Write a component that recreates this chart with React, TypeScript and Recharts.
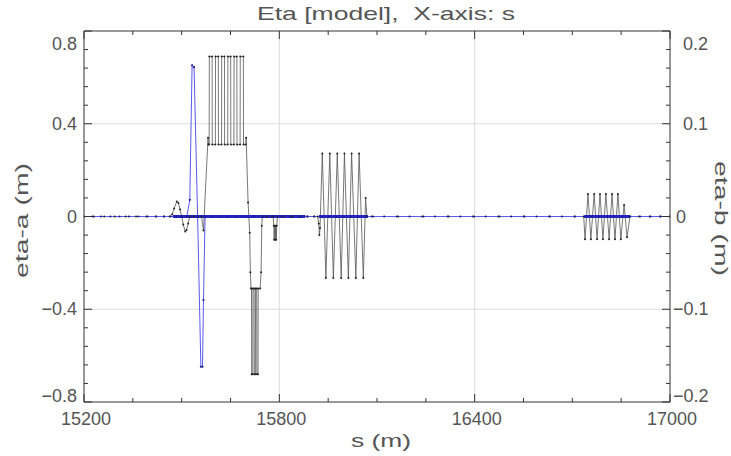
import React from 'react';
import { LineChart, Line, XAxis, YAxis, ReferenceLine } from 'recharts';

// ---------- axes ----------
const X_DOMAIN: [number, number] = [15200, 17000];
const YA_DOMAIN: [number, number] = [-0.8, 0.8];
const YB_DOMAIN: [number, number] = [-0.2, 0.2];

const X_TICKS = [15200, 15350, 15500, 15650, 15800, 15950, 16100, 16250, 16400, 16550, 16700, 16850, 17000];
const X_LABELED = [15200, 15800, 16400, 17000];
const X_GRID = [15800, 16400];

const YA_TICKS = [-0.8, -0.72, -0.64, -0.56, -0.48, -0.4, -0.32, -0.24, -0.16, -0.08, 0, 0.08, 0.16, 0.24, 0.32, 0.4, 0.48, 0.56, 0.64, 0.72, 0.8];
const YA_LABELED = [-0.8, -0.4, 0, 0.4, 0.8];
const YA_GRID = [-0.4, 0, 0.4];

const YB_TICKS = [-0.2, -0.18, -0.16, -0.14, -0.12, -0.1, -0.08, -0.06, -0.04, -0.02, 0, 0.02, 0.04, 0.06, 0.08, 0.1, 0.12, 0.14, 0.16, 0.18, 0.2];
const YB_LABELED = [-0.2, -0.1, 0, 0.1, 0.2];

// ---------- series: eta-a (left axis, black) ----------
const S_A = [
  15200, 15230, 15262, 15295, 15328, 15360, 15392, 15422, 15446, 15463,
  15471, 15477, 15485, 15490, 15495, 15500, 15505, 15511, 15515, 15520, 15525,
  15537, 15550, 15561, 15567, 15581, 15582,
  15584.5, 15585, 15593.5, 15594, 15603.5, 15604, 15612.5, 15613, 15622.5, 15623,
  15631.5, 15632, 15641.5, 15642, 15650.5, 15651, 15660.5, 15661, 15669.5, 15670,
  15679.5, 15680, 15689.5, 15690, 15697, 15698,
  15704, 15709, 15711, 15713,
  15714.5, 15715, 15718.5, 15719, 15722.5, 15723, 15726.5, 15727, 15730.5, 15731, 15734.5, 15735,
  15741, 15744, 15746, 15748,
  15762, 15776, 15781, 15783, 15784, 15786, 15787.5, 15789, 15790.5, 15792, 15794,
  15812, 15838, 15862, 15886, 15906, 15918,
  15921, 15923, 15925, 15932, 15943, 15955, 15966, 15978, 15990, 16000, 16012, 16022, 16035, 16045, 16058, 16065, 16069,
  16088, 16165, 16243, 16320, 16398, 16476, 16553, 16631, 16708, 16735,
  16739, 16748, 16757, 16767, 16776, 16785, 16794, 16803, 16813, 16822, 16831, 16840, 16849, 16859, 16868, 16877,
  16905, 16938, 16970, 17000,
];
const ETA_A = [
  0, 0, 0, 0, 0, 0, 0, 0, 0, 0,
  0.01, 0.035, 0.065, 0.058, 0.03, 0, -0.035, -0.065, -0.058, -0.03, 0,
  0, 0, 0, -0.06, 0.34, 0.31,
  0.31, 0.69, 0.69, 0.31, 0.31, 0.69, 0.69, 0.31, 0.31, 0.69,
  0.69, 0.31, 0.31, 0.69, 0.69, 0.31, 0.31, 0.69, 0.69, 0.31,
  0.31, 0.69, 0.69, 0.31, 0.31, 0.34,
  0.06, -0.07, -0.24, -0.31,
  -0.31, -0.68, -0.68, -0.31, -0.31, -0.68, -0.68, -0.31, -0.31, -0.68, -0.68, -0.31,
  -0.31, -0.24, -0.04, 0,
  0, 0, 0, -0.04, -0.1, -0.04, -0.1, -0.04, -0.1, -0.04, 0,
  0, 0, 0, 0, 0, 0,
  -0.03, -0.08, -0.05, 0.272, -0.265, 0.272, -0.265, 0.272, -0.265, 0.272, -0.265, 0.272, -0.265, 0.272, -0.265, 0.08, 0,
  0, 0, 0, 0, 0, 0, 0, 0, 0, 0,
  -0.098, 0.097, -0.098, 0.097, -0.098, 0.097, -0.098, 0.097, -0.098, 0.097, -0.098, 0.097, -0.098, 0.05, -0.09, 0,
  0, 0, 0, 0,
];

// ---------- series: eta-b (right axis, blue) ----------
const S_B = [
  15200, 15226, 15252, 15281, 15309, 15338, 15367, 15395, 15421, 15446, 15466, 15484, 15500, 15516,
  15525, 15532, 15538, 15549, 15559, 15564, 15567, 15572,
  15592, 15615, 15640, 15668, 15695, 15722, 15750, 15778, 15806, 15833, 15860, 15887, 15908,
  15930, 15952, 15975, 15998, 16020, 16043, 16066,
  16084, 16122, 16161, 16200, 16239, 16278, 16317, 16356, 16395, 16434, 16473, 16512, 16551, 16590, 16629, 16668, 16707,
  16738, 16760, 16783, 16806, 16829, 16852, 16876, 16908, 16940, 16971, 17000,
];
const ETA_B = [
  0, 0, 0, 0, 0, 0, 0, 0, 0, 0, 0, 0, 0, 0,
  0.018, 0.163, 0.161, 0, -0.162, -0.162, -0.09, 0,
  0, 0, 0, 0, 0, 0, 0, 0, 0, 0, 0, 0, 0,
  0, 0, 0, 0, 0, 0, 0,
  0, 0, 0, 0, 0, 0, 0, 0, 0, 0, 0, 0, 0, 0, 0, 0, 0,
  0, 0, 0, 0, 0, 0, 0, 0, 0, 0, 0,
];
// densely sampled stretches of eta-b (many overlapping points -> heavy line)
const S_B_DENSE = [15473, 15880, 15881, 15922, 16072, 16073, 16737, 16878];
const ETA_B_DENSE: (number | null)[] = [0, 0, null, 0, 0, null, 0, 0];

const dataA = S_A.map((s, i) => ({ s, etaA: ETA_A[i] }));
const dataB = S_B.map((s, i) => ({ s, etaB: ETA_B[i] }));
const dataBDense = S_B_DENSE.map((s, i) => ({ s, etaB: ETA_B_DENSE[i] }));

// ---------- styling ----------
const FONT = "'Liberation Sans', Arial, sans-serif";
const AXIS = '#333';
const TEXT = '#555';
const isIn = (arr: number[], v: number) => arr.some((a) => Math.abs(a - v) < 1e-9);
const fmt = (v: number) => {
  const r = Math.round(v * 1000) / 1000;
  return r < 0 ? '\u2212' + String(-r) : String(r);
};

function BottomTick(props: any) {
  const { x, y, payload } = props;
  const v = payload.value;
  const major = isIn(X_LABELED, v);
  return (
    <g>
      <line x1={x} x2={x} y1={y} y2={y - (major ? 8 : 4)} stroke={AXIS} strokeWidth={1} />
      {major ? (
        <text x={x + 2} y={y + 23} textAnchor="middle" fontFamily={FONT} fontSize={18} fill={TEXT}>
          {fmt(v)}
        </text>
      ) : null}
    </g>
  );
}

function TopTick(props: any) {
  const { x, y, payload } = props;
  const major = isIn(X_LABELED, payload.value);
  return <line x1={x} x2={x} y1={y} y2={y + (major ? 8 : 4)} stroke={AXIS} strokeWidth={1} />;
}

function LeftTick(props: any) {
  const { x, y, payload } = props;
  const v = payload.value;
  const major = isIn(YA_LABELED, v);
  const shift = Math.abs(v - 0.8) < 1e-9 ? 13 : Math.abs(v + 0.8) < 1e-9 ? -6 : 0;
  return (
    <g>
      <line x1={x} x2={x + (major ? 8 : 4)} y1={y} y2={y} stroke={AXIS} strokeWidth={1} />
      {major ? (
        <text x={x - 7} y={y + 6 + shift} textAnchor="end" fontFamily={FONT} fontSize={18} fill={TEXT}>
          {fmt(v)}
        </text>
      ) : null}
    </g>
  );
}

function RightTick(props: any) {
  const { x, y, payload } = props;
  const v = payload.value;
  const major = isIn(YB_LABELED, v);
  const shift = Math.abs(v - 0.2) < 1e-9 ? 13 : Math.abs(v + 0.2) < 1e-9 ? -6 : 0;
  const dx = v > 1e-9 ? 13 : v < -1e-9 ? 3 : 6;
  return (
    <g>
      <line x1={x} x2={x - (major ? 8 : 4)} y1={y} y2={y} stroke={AXIS} strokeWidth={1} />
      {major ? (
        <text x={x + dx} y={y + 6 + shift} textAnchor="start" fontFamily={FONT} fontSize={18} fill={TEXT}>
          {fmt(v)}
        </text>
      ) : null}
    </g>
  );
}

// axis boxes: bottom x-axis 30 tall below the plot, top x-axis 10 tall above it,
// left y-axis 60 wide, right y-axis 40 wide
function TitleLabel(props: any) {
  const vb = props.viewBox || { x: 84, y: 21, width: 586, height: 10 };
  const base = vb.y + vb.height;
  return (
    <text
      x={vb.x + vb.width / 2 + 9}
      y={base - 11}
      textAnchor="middle"
      fontFamily={FONT}
      fontSize={19}
      fill={TEXT}
      textLength={258}
      lengthAdjust="spacingAndGlyphs"
      style={{ whiteSpace: 'pre' }}
    >
      {'Eta [model],  X-axis: s'}
    </text>
  );
}

function XLabel(props: any) {
  const vb = props.viewBox || { x: 84, y: 402, width: 586, height: 30 };
  return (
    <text
      x={vb.x + vb.width / 2 + 4}
      y={vb.y + 45}
      textAnchor="middle"
      fontFamily={FONT}
      fontSize={19}
      fill={TEXT}
      textLength={60}
      lengthAdjust="spacingAndGlyphs"
    >
      s (m)
    </text>
  );
}

function LeftLabel(props: any) {
  const vb = props.viewBox || { x: 24, y: 31, width: 60, height: 371 };
  const cx = vb.x + vb.width - 56;
  const cy = vb.y + vb.height / 2 + 4;
  return (
    <text
      x={cx}
      y={cy}
      transform={`rotate(-90 ${cx} ${cy})`}
      textAnchor="middle"
      fontFamily={FONT}
      fontSize={19}
      fill={TEXT}
      textLength={115}
      lengthAdjust="spacingAndGlyphs"
    >
      eta-a (m)
    </text>
  );
}

function RightLabel(props: any) {
  const vb = props.viewBox || { x: 670, y: 31, width: 40, height: 371 };
  const cx = vb.x + 45;
  const cy = vb.y + vb.height / 2 + 2;
  return (
    <text
      x={cx}
      y={cy}
      transform={`rotate(90 ${cx} ${cy})`}
      textAnchor="middle"
      fontFamily={FONT}
      fontSize={18}
      fill={TEXT}
      textLength={115}
      lengthAdjust="spacingAndGlyphs"
    >
      eta-b (m)
    </text>
  );
}

export default function App() {
  return (
    <div style={{ position: 'absolute', left: 0, top: 0, background: '#fff' }}>
      <LineChart width={731} height={456} margin={{ top: 21, right: 21, bottom: 24, left: 24 }}>
        <XAxis
          xAxisId="bottom"
          dataKey="s"
          type="number"
          domain={X_DOMAIN}
          allowDataOverflow
          ticks={X_TICKS}
          interval={0}
          orientation="bottom"
          height={30}
          tickSize={0}
          tickMargin={0}
          tickLine={false}
          tick={<BottomTick />}
          axisLine={{ stroke: AXIS, strokeWidth: 1 }}
          label={<XLabel />}
        />
        <XAxis
          xAxisId="top"
          dataKey="s"
          type="number"
          domain={X_DOMAIN}
          allowDataOverflow
          ticks={X_TICKS}
          interval={0}
          orientation="top"
          height={10}
          tickSize={0}
          tickMargin={0}
          tickLine={false}
          tick={<TopTick />}
          axisLine={{ stroke: AXIS, strokeWidth: 1 }}
          label={<TitleLabel />}
        />
        <YAxis
          yAxisId="left"
          type="number"
          domain={YA_DOMAIN}
          allowDataOverflow
          ticks={YA_TICKS}
          interval={0}
          orientation="left"
          width={60}
          tickSize={0}
          tickMargin={0}
          tickLine={false}
          tick={<LeftTick />}
          axisLine={{ stroke: AXIS, strokeWidth: 1 }}
          label={<LeftLabel />}
        />
        <YAxis
          yAxisId="right"
          type="number"
          domain={YB_DOMAIN}
          allowDataOverflow
          ticks={YB_TICKS}
          interval={0}
          orientation="right"
          width={40}
          tickSize={0}
          tickMargin={0}
          tickLine={false}
          tick={<RightTick />}
          axisLine={{ stroke: AXIS, strokeWidth: 1 }}
          label={<RightLabel />}
        />
        {X_GRID.map((v) => (
          <ReferenceLine key={'gx' + v} x={v} xAxisId="bottom" yAxisId="left" stroke="#dcdcdc" strokeWidth={1} />
        ))}
        {YA_GRID.map((v) => (
          <ReferenceLine key={'gy' + v} y={v} xAxisId="bottom" yAxisId="left" stroke="#dcdcdc" strokeWidth={1} />
        ))}
        <Line
          data={dataA}
          dataKey="etaA"
          xAxisId="bottom"
          yAxisId="left"
          type="linear"
          stroke="#555"
          strokeWidth={0.8}
          dot={{ r: 1, fill: '#222', stroke: 'none' }}
          isAnimationActive={false}
        />
        <Line
          data={dataB}
          dataKey="etaB"
          xAxisId="bottom"
          yAxisId="right"
          type="linear"
          stroke="#5a5aee"
          strokeWidth={1}
          dot={{ r: 1.1, fill: '#1c1c90', stroke: 'none' }}
          isAnimationActive={false}
        />
        <Line
          data={dataBDense}
          dataKey="etaB"
          xAxisId="bottom"
          yAxisId="right"
          type="linear"
          stroke="#2424c0"
          strokeWidth={3}
          dot={false}
          isAnimationActive={false}
        />
      </LineChart>
    </div>
  );
}
